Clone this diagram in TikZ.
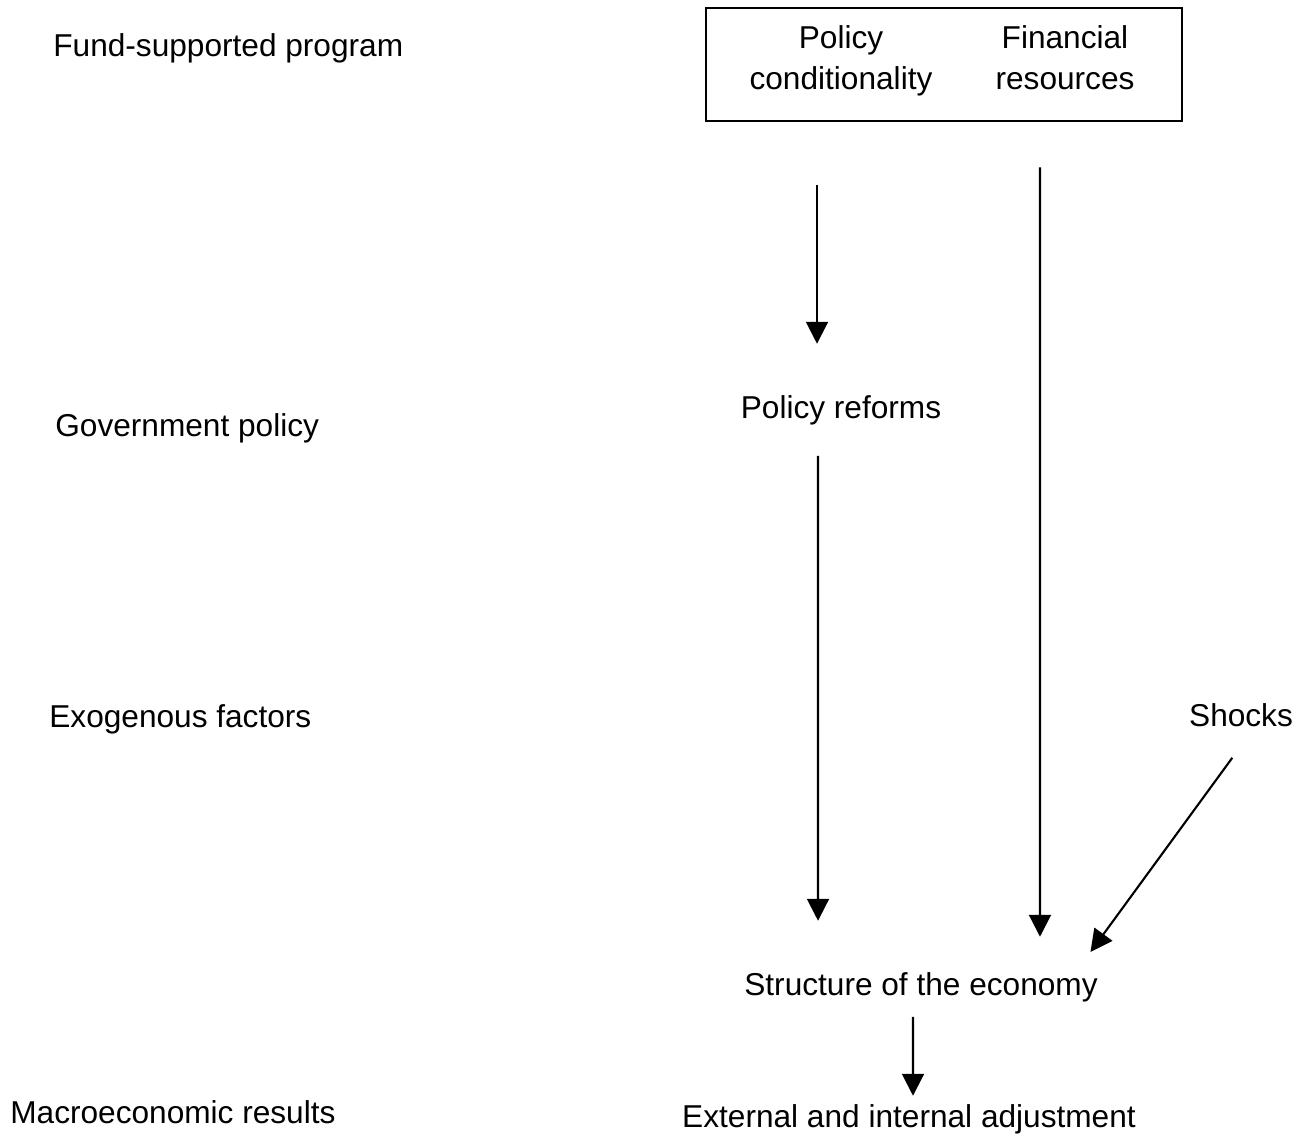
\documentclass[tikz,border=0pt]{standalone}
\usepackage{fontspec}
\setmainfont{Liberation Sans}
\usetikzlibrary{arrows.meta}

\begin{document}
\begin{tikzpicture}[x=0.02cm,y=-0.02cm,
    every node/.style={inner sep=0pt,font=\fontsize{18}{23.3}\selectfont},
    lbl/.style={anchor=base west},
    txt/.style={anchor=base},
    arr/.style={line width=1.2pt,-{Triangle[length=0.44cm,width=0.44cm]}}]
        \useasboundingbox (0,0) rectangle (1307,1136) ;
        % row labels on the left
        \node[lbl] (fund) at (53,56) {Fund-supported program} ;
        \node[lbl] (gov) at (55,436) {Government policy} ;
        \node[lbl] (exo) at (49,727) {Exogenous factors} ;
        \node[lbl] (macro) at (10,1123) {Macroeconomic results} ;
        % the program box
        \node[draw,line width=0.7pt,minimum width=9.52cm,minimum height=2.26cm]
        (prog) at (944,64.5) {} ;
        \node[align=center] (cond) at (841,61) {Policy\\conditionality} ;
        \node[align=center] (fin) at (1065,58) {Financial\\resources} ;
        % the other texts
        \node[txt] (reform) at (841,418) {Policy reforms} ;
        \node[txt] (shocks) at (1241,726) {Shocks} ;
        \node[txt] (struct) at (921,995) {Structure of the economy} ;
        \node[txt] (ext) at (909,1127) {External and internal adjustment} ;
        % arrows
        \draw[arr,shorten <=1.76cm,shorten >=1.02cm]
        ([xshift=-0.48cm]cond.south) -- ([xshift=-0.48cm]reform.north) ;
        \draw[arr,shorten <=0.62cm,shorten >=1.02cm]
        ([xshift=-0.46cm]reform.south) -- ([xshift=-2.06cm]struct.north) ;
        \draw[arr,shorten <=1.54cm,shorten >=0.7cm]
        ([xshift=-0.5cm]fin.south) -- ([xshift=2.38cm]struct.north) ;
        \draw[arr,shorten <=0.77cm,shorten >=0.49cm]
        ([xshift=0.28cm]shocks.south) -- ([xshift=-0.44cm]struct.north east) ;
        \draw[arr,shorten <=0.3cm]
        ([xshift=-0.16cm]struct.south) -- ([xshift=0.08cm,yshift=0.16cm]ext.north) ;
      \end{tikzpicture}
\end{document}
